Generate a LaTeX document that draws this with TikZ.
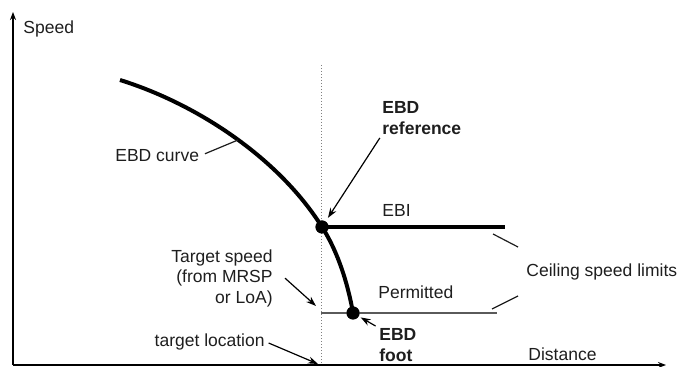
\documentclass[tikz,border=0pt]{standalone}
\usepackage{fontspec}
\setmainfont{Liberation Sans}
\usetikzlibrary{arrows.meta, positioning}
\definecolor{ink}{RGB}{30,30,30}
\definecolor{limit}{RGB}{90,90,90}

\begin{document}
\begin{tikzpicture}[
    x=0.5pt, y=-0.5pt,
    lbl/.style={inner sep=0pt, font=\fontsize{8.75}{10.3}\selectfont, text=ink},
    bold/.style={lbl, font=\fontsize{8.75}{10.3}\selectfont\bfseries, align=left},
    axis/.style={-{Stealth[length=4pt, width=3pt]}, line width=0.75pt},
    ebd/.style={line width=2pt},
    dot/.style={circle, fill=black, inner sep=0pt, minimum size=6.5pt},
    leader/.style={line width=0.6pt, ink},
    pointer/.style={-{Stealth[length=5pt, width=3.5pt]}, line width=0.6pt},
]
\useasboundingbox (0,0) rectangle (678,367);

% axes
\coordinate (origin) at (13,365);
\coordinate (ytop) at (13,12);
\coordinate (xend) at (666,365);
\draw[axis] (origin) -- (ytop);
\draw[axis] (origin) -- (xend);
\node[lbl, anchor=base west] (speed) at (23,34) {Speed};
\node[lbl, anchor=base west] (dist) at (528,360) {Distance};

% target location
\coordinate (tgttop) at (321,65);
\coordinate (tgtbot) at (321,365);
\draw[gray, line width=0.5pt, densely dotted] (tgttop) -- (tgtbot);

% curve and reference points
\coordinate (ebdstart) at (120,80);
\node[dot] (ref) at (322,227) {};
\node[dot] (foot) at (353,313) {};
\draw[ebd] (ebdstart) .. controls (200,105) and (280,160) .. (ref.center)
    .. controls (340,255) and (349,290) .. (foot.center);

% ceiling speed limits
\coordinate (ebiend) at (505,227);
\coordinate (permstart) at (321,313);
\coordinate (permend) at (497,313);
\draw[line width=1.8pt] (ref.center) -- (ebiend);
\draw[line width=1pt, limit] (permstart) -- (permend);
\node[dot] at (ref) {};
\node[dot] at (foot) {};
\node[lbl, anchor=base west] (ebi) at (382,217) {EBI};
\node[lbl, anchor=base west] (perm) at (378,299) {Permitted};
\node[lbl, anchor=base west] (ceil) at (526,277) {Ceiling speed limits};
\coordinate (c1a) at (493,234);
\coordinate (c1b) at (518,247);
\coordinate (c2a) at (492,309);
\coordinate (c2b) at (518,296);
\draw[leader] (c1a) -- (c1b);
\draw[leader] (c2a) -- (c2b);

% labels
\node[lbl, anchor=base west] (curvelbl) at (115,162) {EBD curve};
\coordinate (oncurve) at (238,140);
\draw[leader, shorten <=3pt] (curvelbl.east) -- (oncurve);

\node[bold, anchor=north west] (reflbl) at (382,101) {EBD\\reference};
\draw[pointer, shorten <=2pt, shorten >=2pt] (reflbl.south west) -- (ref);

\node[lbl, align=right, anchor=north east] (tgtlbl) at (273,249) {Target speed\\(from MRSP\\or LoA)};
\coordinate (tgtpt) at (316,306);
\draw[pointer] ([xshift=6pt]tgtlbl.east) -- (tgtpt);

\node[lbl, anchor=base east] (loclbl) at (265,346) {target location};
\coordinate (locpt) at (318,364);
\draw[pointer, shorten <=2pt] (loclbl.east) -- (locpt);

\node[bold, anchor=north west] (footlbl) at (379,328) {EBD\\foot};
\draw[pointer, shorten <=2pt, shorten >=1pt] (footlbl.north west) -- (foot);

\end{tikzpicture}
\end{document}
